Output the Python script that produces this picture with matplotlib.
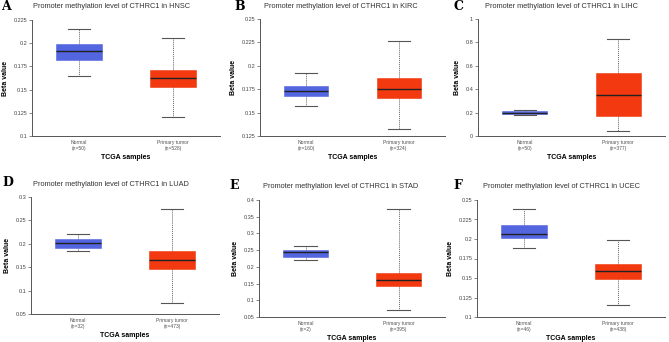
import matplotlib
matplotlib.use('Agg')
import matplotlib.pyplot as plt

plt.rcParams['font.family'] = ['Liberation Sans', 'DejaVu Sans']

# Data *************************************************************************
cancers = ['HNSC', 'KIRC', 'LIHC', 'LUAD', 'STAD', 'UCEC']
letters = ['A', 'B', 'C', 'D', 'E', 'F']
n_normal = [50, 160, 50, 32, 2, 46]
n_tumor = [528, 324, 377, 473, 395, 438]
# whislo, q1, median, q3, whishi
normal_stats = [
	[0.165, 0.182, 0.192, 0.1988, 0.215],
	[0.157, 0.168, 0.1736, 0.178, 0.1925],
	[0.18, 0.189, 0.200, 0.214, 0.226],
	[0.184, 0.1916, 0.2008, 0.210, 0.222],
	[0.220, 0.230, 0.243, 0.251, 0.261],
	[0.188, 0.2007, 0.207, 0.218, 0.238],
]
tumor_stats = [
	[0.120, 0.153, 0.162, 0.1715, 0.206],
	[0.132, 0.166, 0.1754, 0.1875, 0.226],
	[0.046, 0.171, 0.354, 0.537, 0.831],
	[0.073, 0.146, 0.166, 0.184, 0.275],
	[0.072, 0.144, 0.162, 0.182, 0.372],
	[0.116, 0.149, 0.159, 0.1677, 0.199],
]
y_ticks = [
	[0.1, 0.125, 0.15, 0.175, 0.2, 0.225],
	[0.125, 0.15, 0.175, 0.2, 0.225, 0.25],
	[0, 0.2, 0.4, 0.6, 0.8, 1],
	[0.05, 0.1, 0.15, 0.2, 0.25, 0.3],
	[0.05, 0.1, 0.15, 0.2, 0.25, 0.3, 0.35, 0.4],
	[0.1, 0.125, 0.15, 0.175, 0.2, 0.225, 0.25],
]
y_labels = [
	['0.1', '0.125', '0.15', '0.175', '0.2', '0.225'],
	['0.125', '0.15', '0.175', '0.2', '0.225', '0.25'],
	['0', '0.2', '0.4', '0.6', '0.8', '1'],
	['0.05', '0.1', '0.15', '0.2', '0.25', '0.3'],
	['0.05', '0.1', '0.15', '0.2', '0.25', '0.3', '0.35', '0.4'],
	['0.1', '0.125', '0.15', '0.175', '0.2', '0.225', '0.25'],
]

# Layout in pixels (left, right, top, bottom) **********************************
W, H = 669, 342
axes_px = [(32, 220, 20, 136), (260, 445, 19, 136), (478, 665, 19, 136),
           (31, 219, 197, 314), (259, 445, 200, 317), (477, 665, 200, 317)]
title_px = [(33, 6), (264, 6), (485, 6), (33, 184), (263, 187), (483, 187)]
letter_px = [(1, 6), (234, 6), (454, 6), (2, 183), (229, 185), (453, 185)]

blue = '#5465E0'
red = '#F2390F'

fig = plt.figure(figsize=(W / 100, H / 100), dpi=100)

for i in range(6):
	l, r, t, b = axes_px[i]
	ax = fig.add_axes([l / W, 1 - b / H, (r - l) / W, (b - t) / H])
	stats = []
	for s, n in [(normal_stats[i], 'Normal\n(n=%d)' % n_normal[i]),
	             (tumor_stats[i], 'Primary tumor\n(n=%d)' % n_tumor[i])]:
		stats.append({'whislo': s[0], 'q1': s[1], 'med': s[2], 'q3': s[3],
		              'whishi': s[4], 'label': n, 'fliers': []})
	bp = ax.bxp(stats, positions=[1, 2], widths=0.48, patch_artist=True,
	            showfliers=False,
	            whiskerprops=dict(color='#666666', linestyle=(0, (1, 1)), linewidth=0.7),
	            capprops=dict(color='#555555', linewidth=0.8),
	            medianprops=dict(color='#222222', linewidth=1.0),
	            capwidths=0.24)
	for patch, c in zip(bp['boxes'], [blue, red]):
		patch.set_facecolor(c)
		patch.set_edgecolor(c)
		patch.set_linewidth(0.4)
	ax.set_xlim(0.5, 2.5)
	ax.set_ylim(y_ticks[i][0], y_ticks[i][-1])
	ax.set_yticks(y_ticks[i])
	ax.set_yticklabels(y_labels[i])
	ax.spines['top'].set_visible(False)
	ax.spines['right'].set_visible(False)
	for sp in ['left', 'bottom']:
		ax.spines[sp].set_color('#555555')
		ax.spines[sp].set_linewidth(0.7)
	ax.tick_params(axis='y', labelsize=4.0, length=2, width=0.5, pad=1.5,
	               colors='#555555', labelcolor='#444444')
	ax.tick_params(axis='x', labelsize=3.6, length=0, pad=3, labelcolor='#555555')
	ax.set_ylabel('Beta value', fontsize=5.0, fontweight='bold', labelpad=3)
	ax.set_xlabel('TCGA samples', fontsize=5.0, fontweight='bold', labelpad=2)
	tx, ty = title_px[i]
	fig.text(tx / W, 1 - ty / H, 'Promoter methylation level of CTHRC1 in ' + cancers[i],
	         fontsize=5.3, color='#333333', ha='left', va='center')
	lx, ly = letter_px[i]
	fig.text(lx / W, 1 - ly / H, letters[i], fontsize=9, fontweight='bold',
	         family='DejaVu Serif', ha='left', va='center')

fig.savefig('out.png', dpi=100)
